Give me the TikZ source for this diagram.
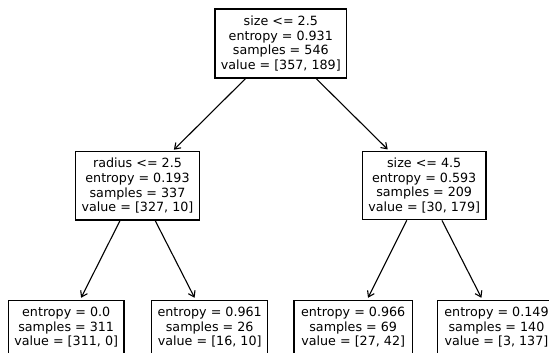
\documentclass[tikz,border=0pt]{standalone}
\usepackage{fontspec}
\setmainfont{DejaVu Sans}
\usetikzlibrary{arrows.meta}
\tikzset{
  treenode/.style={draw=black, line width=1.2pt, fill=white, align=center,
    inner sep=0pt, minimum height=#1,
    font=\fontsize{12.7}{14.7}\selectfont},
  treenode/.default=69pt,
  leafnode/.style={treenode=54.5pt},
  edge/.style={line width=1.1pt, -{Straight Barb[length=5.5pt,width=7.5pt,line width=1.1pt]}, shorten >=2pt}
}
\begin{document}
\begin{tikzpicture}[x=1pt,y=-1pt]
  \useasboundingbox (0,0) rectangle (549,353);
  \clip (0,0) rectangle (549,353);
  \fill[white] (0,0) rectangle (549,353);
  % root split
  \node[treenode, minimum width=131.5pt] (root) at (280.8,43.5)
    {size <= 2.5\\entropy = 0.931\\samples = 546\\value = [357, 189]};
  % second level splits
  \node[treenode=68.3pt, minimum width=123.6pt] (left) at (137.5,185.9)
    {radius <= 2.5\\entropy = 0.193\\samples = 337\\value = [327, 10]};
  \node[treenode=68.3pt, minimum width=123.7pt] (right) at (424.2,185.6)
    {size <= 4.5\\entropy = 0.593\\samples = 209\\value = [30, 179]};
  % leaves
  \node[leafnode, minimum width=115.7pt] (l1) at (66.2,327.4)
    {entropy = 0.0\\samples = 311\\value = [311, 0]};
  \node[leafnode, minimum width=116pt] (l2) at (209.7,327.4)
    {entropy = 0.961\\samples = 26\\value = [16, 10]};
  \node[leafnode, minimum width=118.3pt] (l3) at (353.2,327.4)
    {entropy = 0.966\\samples = 69\\value = [27, 42]};
  \node[leafnode, minimum width=118.3pt] (l4) at (496.5,327.4)
    {entropy = 0.149\\samples = 140\\value = [3, 137]};
  % edges
  \draw[edge] (root) -- (left);
  \draw[edge] (root) -- (right);
  \draw[edge] (left) -- (l1);
  \draw[edge] (left) -- (l2);
  \draw[edge] (right) -- (l3);
  \draw[edge] (right) -- (l4);
\end{tikzpicture}
\end{document}
